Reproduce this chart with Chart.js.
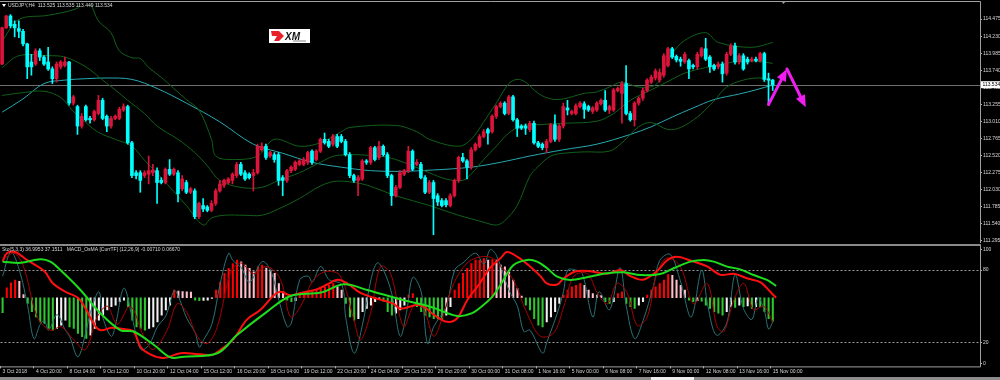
<!DOCTYPE html>
<html>
<head>
<meta charset="utf-8">
<script src="https://cdn.jsdelivr.net/npm/chart.js@4.4.1/dist/chart.umd.min.js"></script>
<style>
html,body{margin:0;padding:0;background:#000;overflow:hidden}
#wrap{position:relative;width:1000px;height:380px;background:#000}
#main{position:absolute;left:0;top:0}
#sub{position:absolute;left:0;top:240px}
#tabs{position:absolute;left:0;top:377px;width:1000px;height:3px;background:#8c8c8c}
#tab{position:absolute;left:651px;top:377px;width:43px;height:3px;background:#eeeeee}
</style>
</head>
<body>
<div id="wrap">
<canvas id="main" width="1000" height="247"></canvas>
<canvas id="sub" width="1000" height="140"></canvas>
<div id="tabs"></div><div id="tab"></div>
</div>
<script>
// USDJPY H4, one entry per bar (bar 0 = 3 Oct 2018)
const opens = [113.83,114.35,114.52,114.40,114.34,114.30,114.12,113.86,113.83,114.02,
113.93,113.86,113.76,113.62,113.79,113.81,113.86,113.27,113.22,112.94,
113.22,113.05,113.03,113.12,113.31,113.08,112.94,113.05,113.05,113.17,
113.22,112.70,112.27,112.27,112.23,112.25,112.27,112.30,112.16,112.13,
112.32,112.25,112.27,112.04,112.13,111.99,112.01,111.64,111.80,111.78,
111.73,111.83,112.01,112.09,112.13,112.16,112.23,112.39,112.27,112.25,
112.23,112.27,112.60,112.65,112.51,112.53,112.53,112.20,112.16,112.30,
112.32,112.39,112.39,112.42,112.58,112.46,112.58,112.75,112.72,112.68,
112.79,112.79,112.72,112.53,112.23,112.16,112.18,112.44,112.42,112.63,
112.49,112.65,112.53,112.23,111.94,112.06,112.25,112.30,112.58,112.39,
112.39,112.20,111.99,112.13,111.94,111.87,111.87,111.80,111.94,112.16,
112.49,112.44,112.35,112.60,112.65,112.79,112.89,112.86,113.08,113.22,
113.27,113.12,113.36,113.03,112.94,112.94,112.89,112.98,112.70,112.68,
112.63,112.72,112.96,112.75,112.94,113.20,113.12,113.12,113.22,113.26,
113.22,113.15,113.17,113.26,113.31,113.17,113.17,113.45,113.41,113.55,
113.12,113.03,113.27,113.34,113.45,113.57,113.63,113.60,113.67,113.81,
114.05,113.94,113.90,113.86,113.88,113.81,113.79,113.95,114.05,113.93,
113.81,113.79,113.83,113.70,113.97,114.09,113.86,113.95,113.90,113.88,
113.90,113.88,113.98,113.62,113.60];
const highs = [114.36,114.53,114.54,114.45,114.45,114.33,114.13,113.97,114.05,114.05,
113.95,114.07,113.79,113.86,113.88,113.93,113.87,113.38,113.24,113.12,
113.24,113.08,113.17,113.38,113.34,113.10,113.08,113.10,113.21,113.26,
113.24,112.72,112.30,112.30,112.30,112.51,112.39,112.34,112.20,112.34,
112.46,112.34,112.30,112.23,112.16,112.06,112.04,111.85,111.90,111.80,
111.87,112.04,112.16,112.18,112.20,112.27,112.42,112.42,112.30,112.27,
112.32,112.68,112.70,112.68,112.58,112.56,112.56,112.23,112.32,112.37,
112.44,112.46,112.49,112.58,112.60,112.60,112.77,112.84,112.75,112.82,
112.82,112.82,112.75,112.56,112.25,112.23,112.46,112.46,112.65,112.65,
112.72,112.67,112.56,112.25,112.09,112.30,112.32,112.65,112.60,112.46,
112.42,112.23,112.16,112.16,111.97,111.90,111.90,111.97,112.18,112.51,
112.55,112.46,112.63,112.70,112.82,112.89,112.91,113.10,113.24,113.29,
113.29,113.38,113.38,113.05,112.96,112.97,113.01,113.01,112.72,112.70,
112.75,112.98,113.10,112.96,113.27,113.31,113.17,113.26,113.29,113.29,
113.24,113.22,113.29,113.33,113.45,113.24,113.48,113.50,113.58,113.81,
113.15,113.29,113.36,113.48,113.62,113.67,113.76,113.76,113.98,114.07,
114.07,113.96,113.93,114.00,113.90,113.83,114.00,114.07,114.20,113.95,
113.83,113.86,113.86,114.00,114.12,114.13,113.98,113.98,113.93,113.93,
113.93,114.00,114.00,113.70,113.61];
const lows = [113.82,114.34,114.35,114.22,114.21,114.09,113.62,113.67,113.81,113.88,
113.81,113.74,113.55,113.57,113.76,113.79,113.24,113.24,112.82,112.91,
113.01,112.98,113.01,113.10,113.03,112.86,112.91,113.03,113.03,113.15,
112.68,112.20,112.18,111.99,112.20,112.11,112.23,111.83,112.11,112.11,
112.23,112.23,111.85,112.01,111.97,111.97,111.61,111.61,111.71,111.71,
111.71,111.80,111.99,112.06,112.11,112.11,112.20,112.23,112.16,112.18,
112.01,112.25,112.58,112.46,112.49,112.42,112.09,111.94,112.13,112.27,
112.30,112.37,112.37,112.39,112.39,112.44,112.56,112.68,112.63,112.65,
112.63,112.70,112.51,112.20,112.13,111.94,112.16,112.39,112.39,112.44,
112.46,112.51,112.20,111.80,111.92,112.04,112.23,112.27,112.30,112.37,
112.18,111.97,111.97,111.38,111.80,111.78,111.78,111.78,111.92,112.13,
112.42,112.18,112.32,112.58,112.63,112.77,112.68,112.84,113.05,113.20,
113.10,113.10,113.01,112.79,112.89,112.82,112.86,112.68,112.63,112.60,
112.56,112.70,112.72,112.72,112.91,113.10,113.10,113.10,113.20,113.05,
113.15,113.12,113.15,113.24,113.15,113.12,113.15,113.43,112.98,113.10,
113.01,112.94,113.24,113.31,113.43,113.55,113.60,113.57,113.64,113.79,
113.91,113.86,113.80,113.84,113.62,113.76,113.76,113.93,113.88,113.71,
113.74,113.76,113.57,113.67,113.95,113.83,113.83,113.74,113.83,113.86,
113.86,113.86,113.58,113.25,113.45];
const closes = [114.35,114.52,114.38,114.35,114.30,114.12,113.79,113.79,114.02,113.93,
113.83,113.76,113.62,113.83,113.86,113.86,113.27,113.36,112.94,113.08,
113.03,113.03,113.15,113.31,113.05,112.94,113.05,113.08,113.18,113.22,
112.70,112.23,112.23,112.16,112.27,112.30,112.31,112.13,112.13,112.32,
112.25,112.32,111.97,112.18,111.99,112.04,111.64,111.83,111.75,111.73,
111.83,112.01,112.11,112.16,112.18,112.25,112.39,112.25,112.18,112.20,
112.27,112.65,112.65,112.49,112.56,112.46,112.16,112.16,112.30,112.35,
112.42,112.44,112.46,112.56,112.42,112.58,112.75,112.70,112.65,112.79,
112.65,112.72,112.53,112.23,112.16,112.20,112.44,112.42,112.63,112.46,
112.65,112.53,112.23,111.94,112.06,112.27,112.30,112.58,112.32,112.42,
112.20,111.99,112.13,111.90,111.85,111.80,111.81,111.94,112.16,112.49,
112.44,112.35,112.60,112.68,112.79,112.86,112.84,113.08,113.22,113.27,
113.12,113.36,113.03,112.91,112.91,112.91,112.98,112.70,112.65,112.63,
112.72,112.96,112.75,112.94,113.22,113.17,113.15,113.23,113.27,113.18,
113.17,113.20,113.27,113.31,113.17,113.22,113.46,113.48,113.55,113.12,
113.03,113.27,113.34,113.45,113.60,113.64,113.73,113.71,113.95,114.05,
113.93,113.89,113.87,113.97,113.76,113.79,113.97,114.05,113.90,113.79,
113.76,113.83,113.69,113.97,114.09,113.86,113.95,113.76,113.86,113.90,
113.88,113.98,113.61,113.60,113.53];

// overlays as [bar, price]
const bbUpper = [[0,114.16],[4,114.47],[11,114.53],[18,114.63],[19,114.72],[21,114.69],[23,114.45],[26,114.28],[28,114.02],[31,113.92],[33,113.91],[35,113.78],[38,113.64],[44,113.32],[47,113.17],[50,112.75],[51,112.51],[55,112.46],[61,112.51],[65,112.75],[71,112.65],[76,112.70],[81,112.86],[83,112.92],[94,112.95],[99,112.86],[102,112.75],[109,112.65],[112,112.75],[115,113.00],[118,113.27],[121,113.55],[123,113.61],[125,113.57],[128,113.41],[131,113.33],[134,113.33],[139,113.41],[142,113.43],[145,113.50],[148,113.57],[152,113.50],[156,113.53],[158,113.75],[160,113.98],[163,114.17],[168,114.28],[171,114.14],[179,114.07],[184,114.14]];
const bbMiddle = [[0,113.78],[4,113.95],[11,113.95],[15,113.93],[20,113.79],[24,113.60],[27,113.46],[30,113.31],[34,113.12],[37,112.94],[42,112.75],[46,112.56],[49,112.37],[52,112.16],[57,112.06],[62,112.06],[66,112.16],[71,112.27],[76,112.42],[80,112.52],[90,112.51],[94,112.46],[98,112.37],[102,112.27],[106,112.18],[110,112.16],[112,112.25],[115,112.46],[118,112.65],[121,112.84],[124,112.94],[128,112.96],[134,112.98],[142,113.01],[146,113.12],[150,113.31],[154,113.43],[159,113.58],[163,113.70],[168,113.78],[172,113.83],[176,113.87],[180,113.87],[184,113.84]];
const bbLower = [[0,113.38],[5,113.42],[10,113.44],[14,113.35],[17,113.15],[20,112.99],[23,112.85],[27,112.75],[31,112.65],[34,112.45],[38,112.20],[41,112.00],[44,111.80],[48,111.52],[50,111.62],[53,111.66],[58,111.66],[62,111.66],[66,111.75],[71,111.90],[76,112.08],[80,112.15],[86,112.11],[90,112.03],[94,111.94],[98,111.87],[102,111.80],[106,111.72],[109,111.66],[112,111.61],[115,111.56],[118,111.52],[120,111.58],[123,111.80],[126,112.22],[128,112.36],[131,112.51],[134,112.55],[139,112.57],[145,112.58],[148,112.70],[152,112.93],[155,112.99],[159,112.89],[162,112.92],[166,113.07],[170,113.30],[173,113.50],[177,113.60],[181,113.63],[184,113.58]];
const maSlow = [[0,113.14],[5,113.33],[10,113.55],[15,113.60],[20,113.62],[25,113.63],[31,113.61],[37,113.48],[44,113.27],[52,113.00],[60,112.68],[67,112.55],[74,112.42],[81,112.35],[88,112.30],[95,112.29],[103,112.31],[112,112.35],[119,112.42],[126,112.51],[134,112.60],[142,112.68],[150,112.82],[155,112.93],[160,113.07],[165,113.20],[170,113.32],[176,113.40],[180,113.46],[184,113.53]];
// hand drawn zig-zag arrow [bar, price]
const arrowPath = [[183,113.25],[187.4,113.76],[191.9,113.21]];

// lower pane
const osma = [-0.0045,0.0030,0.0045,0.0054,0.0050,0.0010,-0.0017,-0.0042,-0.0058,-0.0073,
-0.0078,-0.0093,-0.0098,-0.0093,-0.0083,-0.0068,-0.0088,-0.0093,-0.0108,-0.0118,
-0.0123,-0.0113,-0.0093,-0.0068,-0.0053,-0.0037,-0.0027,-0.0022,-0.0012,-0.0007,
-0.0027,-0.0068,-0.0088,-0.0093,-0.0098,-0.0093,-0.0088,-0.0073,-0.0053,-0.0037,
-0.0022,0.0023,0.0020,0.0019,0.0018,0.0017,-0.0007,-0.0009,-0.0008,-0.0007,
-0.0002,0.0023,0.0048,0.0074,0.0089,0.0104,0.0114,0.0109,0.0099,0.0089,
0.0079,0.0094,0.0099,0.0090,0.0084,0.0074,0.0043,0.0018,-0.0007,-0.0012,
-0.0009,0.0008,0.0013,0.0018,0.0023,0.0025,0.0028,0.0033,0.0038,0.0043,
0.0033,0.0023,-0.0017,-0.0058,-0.0068,-0.0063,-0.0042,-0.0032,-0.0022,-0.0012,
-0.0005,-0.0010,-0.0042,-0.0053,-0.0047,-0.0037,-0.0022,0.0008,0.0013,-0.0027,
-0.0042,-0.0053,-0.0058,-0.0063,-0.0064,-0.0065,-0.0053,-0.0027,0.0023,0.0043,
0.0074,0.0089,0.0104,0.0114,0.0114,0.0119,0.0114,0.0116,0.0114,0.0099,
0.0094,0.0079,0.0054,0.0028,0.0005,-0.0022,-0.0037,-0.0063,-0.0083,-0.0088,
-0.0073,-0.0058,-0.0042,-0.0017,0.0008,0.0023,0.0033,0.0038,0.0043,0.0038,
0.0023,0.0013,0.0008,0.0007,-0.0012,-0.0017,-0.0012,0.0013,0.0018,-0.0017,
-0.0027,-0.0032,-0.0022,-0.0012,0.0008,0.0023,0.0033,0.0043,0.0054,0.0070,
0.0068,0.0054,0.0038,0.0023,-0.0007,-0.0012,-0.0009,-0.0010,-0.0022,-0.0032,
-0.0042,-0.0047,-0.0053,-0.0042,-0.0027,-0.0029,-0.0022,-0.0027,-0.0025,-0.0032,
-0.0027,-0.0028,-0.0042,-0.0063,-0.0071];
const stochMain = [[0,75],[2,95],[4,80],[6,50],[7.5,23],[9,35],[10,38],[11,30],[13,43],[15,30],[16,25],[18,8],[20,30],[21,45],[23,62],[24,40],[26,25],[27,35],[29,65],[31,40],[33,14],[35,18],[37,33],[39,42],[41,63],[42,58],[44,40],[46,28],[47,16],[48,22],[50,35],[52,69],[54,94],[55,88],[57,82],[59,70],[62,87],[64,80],[66,55],[68,33],[69,36],[71,72],[73,75],[74,70],[76,83],[78,72],[81,68],[82,40],[84,11],[86,35],[88,72],[89.5,86],[91,80],[93,60],[95,25],[96.5,45],[98,74],[100,62],[101.5,19],[103,33],[106,50],[108,80],[110,86],[113,94],[115,85],[116.5,97],[118,92],[121,63],[123,50],[124.5,29],[126,30],[129,11],[130,20],[132.5,44],[134,62],[135,80],[137,80],[138.5,77],[141,41],[142.5,62],[145,47],[147.5,82],[149,50],[151,23],[153,38],[155.5,67],[157,88],[159.5,93],[162,70],[164.5,41],[167,80],[168.5,50],[170.5,26],[173,36],[175,76],[177,48],[179,39],[180.5,57],[182,46],[183,31],[184,37.0]];
const stochSignal = [[0,88],[2.7,94],[5,83],[8.3,41],[11.5,30],[14,33],[17,22],[19.8,14],[22.6,41],[25,50],[27.4,35],[30.5,50],[33.7,25],[36,14],[39.3,30],[41.7,52],[44,45],[46.5,25],[48.9,19],[51.3,33],[54.4,77],[56.8,86],[60,77],[63.2,83],[66.4,72],[68.8,41],[71.2,50],[74.3,72],[77.5,79],[80.7,75],[83.9,39],[85.5,22],[87.9,44],[90.3,83],[92.7,77],[95.8,33],[98.2,50],[100.5,48],[103,25],[105,40],[107.8,69],[111,86],[114.2,91],[117,90],[119,83],[122,72],[125.3,44],[128.5,25],[131.7,28],[134.1,50],[136.5,75],[139.7,77],[142.1,61],[144.5,52],[146.8,69],[149.2,61],[151.6,34],[154,41],[156.3,77],[158.7,90],[161.9,83],[165.1,52],[168.3,69],[170.7,33],[172.3,29],[174.7,55],[177.1,69],[179.4,47],[181.8,50],[184,37.2]];
const slowRed = [[0,87],[1,94],[3,95],[6,88],[10,79],[12,69],[15,62],[18,57],[20,47],[22,34],[23.5,30],[26,32],[29,31],[31.3,29],[33,16],[35.3,10],[38.5,7],[42.5,11],[47.3,10],[50,9.5],[52,13.6],[55,22],[58.4,39],[61.6,47],[64.8,59],[66.4,62],[68.8,59],[71.2,61],[75,64],[77.5,68],[80,72],[82.3,69],[85.5,61],[88.7,57],[93.4,52],[95,48],[99.8,51],[103,43],[106.2,37],[108.6,40],[111,55],[114,69],[116.5,82],[119,90],[120.5,95],[123,91],[126,83],[128.5,75],[130,69],[132.5,68],[134,73],[137,79],[140.4,79],[144.4,77],[147.6,80],[150,75],[153,72],[156.3,79],[158.7,88],[161,91],[164.3,88],[168.3,83],[171.5,76],[174.7,77],[178,73],[181,70],[183.4,62],[184.8,57]];
const slowGreen = [[0,87],[4.3,86],[9,89],[11.4,87],[13.8,80],[18.6,63.5],[23.4,44],[28.2,30],[31.3,29],[36.1,18],[40.1,7.5],[43.3,8.1],[51.3,10.9],[56,26],[63.2,45.5],[68.8,58.5],[76,61.3],[81.5,68.2],[87.1,63.5],[95,55.7],[102.2,49.6],[108.6,41.9],[112,44],[114.5,50],[117,58],[119,68],[122,84],[125.3,88.4],[127.7,87],[130.1,81.5],[132.5,74.5],[135.6,71.8],[139.6,74],[144.4,77.3],[148.4,78.1],[152.4,75.9],[157.1,76.8],[160.3,81.5],[164.3,87],[167.5,88.4],[169.9,87],[173.1,82.9],[176.2,80.6],[179.4,75.9],[182.6,71.8],[184.8,66.8]];

// axes
const priceTicks = [114.475,114.230,113.985,113.740,113.495,113.255,113.010,112.765,112.520,112.275,112.030,111.785,111.540,111.295];
const stochLevels = [0,20,80,100];
const timeLabels = ['3 Oct 2018','4 Oct 20:00','8 Oct 04:00','9 Oct 12:00','10 Oct 20:00','12 Oct 04:00','15 Oct 12:00','16 Oct 20:00','18 Oct 04:00','19 Oct 12:00','22 Oct 20:00','24 Oct 04:00','25 Oct 12:00','26 Oct 20:00','30 Oct 00:00','31 Oct 08:00','1 Nov 16:00','5 Nov 00:00','6 Nov 08:00','7 Nov 16:00','9 Nov 00:00','12 Nov 08:00','13 Nov 16:00','15 Nov 00:00'];
const symbolTitle = 'USDJPY,H4';
const lastBar = [113.525, 113.535, 113.449, 113.534];
const stochTitle = 'Sto(5,3,3)';
const stochLast = ['36.9953', '37.1511'];
const osmaTitle = 'MACD_OsMA [CurrTF] (12,26,9)';
const osmaLast = ['-0.00710', '0.06670'];

const FONT = "'Liberation Sans', Arial, sans-serif";
const axisFont = { family: FONT, size: 5 };
const txt = '#d8d8d8';
const frameGray = '#8a8a8a';
const bull = '#dc143c', bear = '#00ffff';
const xMin = -0.5, xMax = 233.5;   // chart shift leaves room on the right

const pts = a => a.map(p => ({ x: p[0], y: p[1] }));
const candleColors = closes.map((c, i) => c >= opens[i] ? bull : bear);
const histColors = osma.map((v, i) => {
  const prev = i > 0 ? osma[i - 1] : v;
  if (v >= 0) return v >= prev ? '#ff0000' : '#ffc0cb';
  return v <= prev ? '#2ec82e' : '#f2f2f2';
});

function lineSet(data, color, width, order, axis) {
  return { type: 'line', data: pts(data), borderColor: color, borderWidth: width,
    pointRadius: 0, tension: 0.35, fill: false, order: order, yAxisID: axis || 'y' };
}

const mainDeco = {
  id: 'mainDeco',
  beforeDatasetsDraw(chart) {
    const { ctx, chartArea: a, scales } = chart;
    const y = Math.round(scales.y.getPixelForValue(lastBar[3])) + 0.5;
    ctx.save();
    ctx.strokeStyle = '#6e6e6e'; ctx.lineWidth = 1;
    ctx.beginPath(); ctx.moveTo(a.left, y); ctx.lineTo(a.right, y); ctx.stroke();
    ctx.restore();
  },
  afterDatasetsDraw(chart) {
    const { ctx, chartArea: a, scales } = chart;
    ctx.save();
    // magenta projection arrows
    const p = arrowPath.map(q => [scales.x.getPixelForValue(q[0]), scales.y.getPixelForValue(q[1])]);
    ctx.strokeStyle = '#f01cf0'; ctx.fillStyle = '#f01cf0'; ctx.lineWidth = 3; ctx.lineCap = 'round';
    for (let k = 1; k < p.length; k++) {
      const [x0, y0] = p[k - 1], [x1, y1] = p[k];
      const ang = Math.atan2(y1 - y0, x1 - x0);
      const hl = 12, hw = 5;
      const bx = x1 - hl * Math.cos(ang), by = y1 - hl * Math.sin(ang);
      ctx.beginPath(); ctx.moveTo(x0, y0); ctx.lineTo(bx, by); ctx.stroke();
      ctx.beginPath();
      ctx.moveTo(x1, y1);
      ctx.lineTo(bx + hw * Math.sin(ang), by - hw * Math.cos(ang));
      ctx.lineTo(bx - hw * Math.sin(ang), by + hw * Math.cos(ang));
      ctx.closePath(); ctx.fill();
    }
    // XM watermark
    ctx.fillStyle = '#ffffff'; ctx.fillRect(269, 29, 41, 14);
    ctx.fillStyle = '#e8202a';
    ctx.beginPath();
    ctx.moveTo(271, 31); ctx.lineTo(279, 31); ctx.lineTo(284, 36); ctx.lineTo(279, 41);
    ctx.lineTo(274, 41); ctx.lineTo(277, 36); ctx.lineTo(272, 36); ctx.closePath(); ctx.fill();
    ctx.fillStyle = '#111111';
    ctx.font = "italic bold 10px " + FONT; ctx.textBaseline = 'alphabetic'; ctx.textAlign = 'left';
    ctx.fillText('XM', 285, 39.5);
    ctx.fillStyle = '#888888'; ctx.fillRect(293, 40.5, 13, 1);
    // header
    ctx.fillStyle = '#ffffff';
    ctx.beginPath(); ctx.moveTo(2, 4); ctx.lineTo(6, 4); ctx.lineTo(4, 7); ctx.closePath(); ctx.fill();
    ctx.fillStyle = txt; ctx.font = '5px ' + FONT; ctx.textBaseline = 'middle';
    ctx.fillText(symbolTitle + '  ' + lastBar.map(v => v.toFixed(3)).join(' '), 8, 5.5);
    ctx.restore();
  },
  afterDraw(chart) {
    const { ctx, chartArea: a, scales } = chart;
    ctx.save();
    ctx.strokeStyle = '#a0a0a0'; ctx.lineWidth = 1;
    ctx.beginPath();
    ctx.moveTo(0, 1.5); ctx.lineTo(a.right + 0.5, 1.5); ctx.lineTo(a.right + 0.5, a.bottom);
    ctx.stroke();
    // chart shift marker
    ctx.fillStyle = '#9a9a9a';
    ctx.beginPath(); ctx.moveTo(781, 1); ctx.lineTo(786, 1); ctx.lineTo(783.5, 4); ctx.closePath(); ctx.fill();
    // current price box
    const y = scales.y.getPixelForValue(lastBar[3]);
    ctx.fillStyle = '#ffffff'; ctx.fillRect(a.right + 1, y - 3.5, 19, 7);
    ctx.fillStyle = '#000000'; ctx.font = '5px ' + FONT; ctx.textBaseline = 'middle'; ctx.textAlign = 'left';
    ctx.fillText(lastBar[3].toFixed(3), a.right + 2.5, y);
    ctx.restore();
  }
};

new Chart(document.getElementById('main'), {
  type: 'bar',
  data: {
    datasets: [
      { data: opens.map((o, i) => ({ x: i, y: [o, closes[i]] })), backgroundColor: candleColors,
        barThickness: 3, minBarLength: 1, grouped: false, order: 0 },
      { data: lows.map((l, i) => ({ x: i, y: [l, highs[i]] })), backgroundColor: candleColors,
        barThickness: 1, grouped: false, order: 1 },
      lineSet(bbUpper, '#11601a', 1, 2),
      lineSet(bbMiddle, '#11601a', 1, 3),
      lineSet(bbLower, '#11601a', 1, 4),
      lineSet(maSlow, '#27a8b0', 1, 5)
    ]
  },
  options: {
    responsive: false, animation: false, events: [],
    layout: { padding: { top: 3, bottom: 2, left: 0, right: 0 } },
    plugins: { legend: { display: false }, tooltip: { enabled: false } },
    scales: {
      x: { type: 'linear', min: xMin, max: xMax, offset: false, display: false },
      y: {
        position: 'right', min: 111.262, max: 114.692,
        afterFit: s => { s.width = 20; },
        afterBuildTicks: s => { s.ticks = priceTicks.map(v => ({ value: v })); },
        grid: { drawOnChartArea: false, tickLength: 2, color: '#b0b0b0' },
        border: { display: false },
        ticks: { font: axisFont, color: txt, padding: 1, autoSkip: false, callback: v => v.toFixed(3) }
      }
    }
  },
  plugins: [mainDeco]
});

const subDeco = {
  id: 'subDeco',
  beforeDatasetsDraw(chart) {
    const { ctx, chartArea: a, scales } = chart;
    ctx.save();
    ctx.strokeStyle = '#9a9a9a'; ctx.lineWidth = 1; ctx.setLineDash([2, 2]);
    [20, 80].forEach(level => {
      const y = Math.round(scales.y.getPixelForValue(level)) + 0.5;
      ctx.beginPath(); ctx.moveTo(a.left, y); ctx.lineTo(a.right, y); ctx.stroke();
    });
    ctx.restore();
  },
  afterDraw(chart) {
    const { ctx, chartArea: a } = chart;
    ctx.save();
    ctx.fillStyle = frameGray; ctx.fillRect(0, a.top - 2, a.right + 1, 2);
    ctx.strokeStyle = '#a0a0a0'; ctx.lineWidth = 1;
    ctx.beginPath();
    ctx.moveTo(a.right + 0.5, a.top); ctx.lineTo(a.right + 0.5, a.bottom + 0.5); ctx.lineTo(0, a.bottom + 0.5);
    ctx.stroke();
    ctx.fillStyle = txt; ctx.font = '5px ' + FONT; ctx.textBaseline = 'middle'; ctx.textAlign = 'left';
    ctx.fillText(stochTitle + ' ' + stochLast.join(' ') + '   ' + osmaTitle + ' ' + osmaLast.join(' '), 2, a.top + 4);
    ctx.restore();
  }
};

new Chart(document.getElementById('sub'), {
  type: 'bar',
  data: {
    datasets: [
      lineSet(slowGreen, '#1edc1e', 2, 0),
      lineSet(slowRed, '#ff1010', 2, 1),
      lineSet(stochSignal, '#a80000', 1, 2),
      lineSet(stochMain, '#2a7276', 1, 3),
      { data: osma.map((v, i) => ({ x: i, y: v })), backgroundColor: histColors, yAxisID: 'yh',
        barThickness: 1.4, grouped: false, order: 10 }
    ]
  },
  options: {
    responsive: false, animation: false, events: [],
    layout: { padding: { top: 6, bottom: 0, left: 0, right: 0 } },
    plugins: { legend: { display: false }, tooltip: { enabled: false } },
    scales: {
      x: {
        type: 'linear', min: xMin, max: xMax, offset: false,
        afterFit: s => { s.height = 13.6; },
        afterBuildTicks: s => { s.ticks = timeLabels.map((_, k) => ({ value: k * 8 - 0.5 })); },
        grid: { drawOnChartArea: false, tickLength: 2, color: '#b0b0b0', offset: false },
        border: { display: false },
        ticks: { font: axisFont, color: txt, align: 'start', labelOffset: 2, padding: 0.5,
          maxRotation: 0, autoSkip: false, callback: (v, i) => timeLabels[i] }
      },
      y: {
        position: 'right', min: 0, max: 100,
        afterFit: s => { s.width = 20; },
        // MT4 pulls the 0 and 100 labels a little inside the pane
        afterBuildTicks: s => { s.ticks = stochLevels.map(v => ({ value: v === 0 ? 2.6 : v === 100 ? 97.3 : v })); },
        grid: { drawOnChartArea: false, tickLength: 2, color: '#b0b0b0' },
        border: { display: false },
        ticks: { font: axisFont, color: txt, padding: 1, autoSkip: false,
          callback: v => String(stochLevels.reduce((b, l) => Math.abs(l - v) < Math.abs(b - v) ? l : b)) }
      },
      yh: { display: false, min: -0.0208, max: 0.0157 }
    }
  },
  plugins: [subDeco]
});
</script>
</body>
</html>
